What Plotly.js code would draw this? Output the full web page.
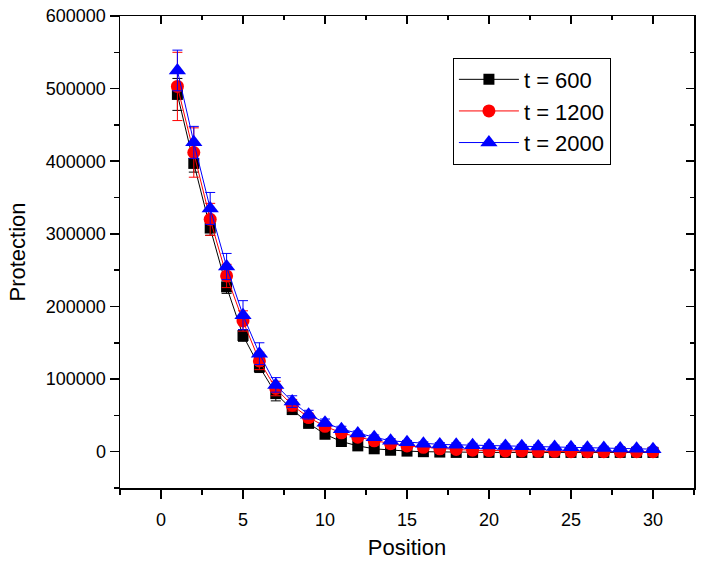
<!DOCTYPE html>
<html>
<head>
<meta charset="utf-8">
<script src="https://cdn.plot.ly/plotly-3.0.1.min.js"></script>
<style>html,body{margin:0;padding:0;background:#fff;}#chart{width:704px;height:564px;}</style>
</head>
<body>
<div id="chart"></div>
<script>
var positions = [1,2,3,4,5,6,7,8,9,10,11,12,13,14,15,16,17,18,19,20,21,22,23,24,25,26,27,28,29,30];

var t600 = [492000,397000,308000,227000,160000,117000,80000,58000,39000,24000,14000,8000,4000,2000,800,0,-500,-1000,-1000,-1000,-1000,-1000,-1000,-1000,-1000,-1000,-1000,-1000,-1000,-1000];
var t600Err = [22000,12000,10000,9000,8000,8000,10000,6000,4000,3000,2500,2000,2000,1500,1500,1500,1500,1500,1500,1500,1500,1500,1500,1500,1500,1500,1500,1500,1500,1500];

var t1200 = [503000,412000,320000,242000,180000,125000,87000,64000,47000,35000,26000,20000,15000,11000,8000,6000,4000,3000,2000,1500,1000,1000,500,500,0,0,0,0,0,0];
var t1200Err = [47000,34000,22000,16000,14000,12000,10000,8000,6000,5000,4000,3500,3000,3000,2500,2500,2500,2500,2500,2500,2500,2500,2500,2500,2500,2500,2500,2500,2500,2500];

var t2000 = [525000,426000,335000,255000,188000,135000,92000,69000,51000,40000,31000,25000,20000,15000,13000,11000,10000,9500,9000,8500,8000,7500,7000,6500,6000,5500,5000,4500,4000,3500];
var t2000Err = [28000,22000,22000,18000,20000,15000,10000,8000,6000,5000,4000,3500,3000,3000,2500,2500,2500,2500,2500,2500,2500,2500,2500,2500,2500,2500,2500,2500,2500,2500];

var seriesNames = ['t = 600','t = 1200','t = 2000'];
var xRange = [-2.5, 32.5];
var yRange = [-50000, 600000];

function mk(name, y, err, color, symbol, size) {
  return {
    x: positions, y: y, name: name, type: 'scatter', mode: 'lines+markers',
    line: {color: color, width: 1},
    marker: {color: color, symbol: symbol, size: size, line: {width: 0}},
    error_y: {type: 'data', array: err, visible: true, color: color, thickness: 1, width: 5},
    xaxis: 'x', yaxis: 'y'
  };
}

var data = [
  mk(seriesNames[0], t600, t600Err, '#000000', 'square', 11),
  mk(seriesNames[1], t1200, t1200Err, '#ff0000', 'circle', 13),
  mk(seriesNames[2], t2000, t2000Err, '#0000ff', 'triangle-up', 15),
  {x: [], y: [], xaxis: 'x2', yaxis: 'y2', showlegend: false, hoverinfo: 'skip', type: 'scatter'}
];

var fontFam = 'Liberation Sans, Arial, sans-serif';
var axBase = {
  showgrid: false, zeroline: false, showline: true, linecolor: '#000', linewidth: 1.5,
  tickcolor: '#000', tickwidth: 1.5, ticklen: 9,
  tickfont: {family: fontFam, size: 18, color: '#000'}
};

var layout = {
  width: 704, height: 564,
  margin: {l: 120, r: 10, t: 16, b: 76},
  paper_bgcolor: '#fff', plot_bgcolor: '#fff',
  showlegend: true,
  font: {family: fontFam, color: '#000'},
  xaxis: Object.assign({}, axBase, {
    range: xRange, autorange: false, dtick: 5, tick0: 0, ticks: 'outside',
    ticklabelstandoff: 6,
    minor: {dtick: 2.5, tick0: 0, ticks: 'outside', ticklen: 5, tickwidth: 1.5, tickcolor: '#000'},
    title: {text: 'Position', font: {family: fontFam, size: 22, color: '#000'}, standoff: 10}
  }),
  yaxis: Object.assign({}, axBase, {
    range: yRange, autorange: false, dtick: 100000, tick0: 0, ticks: 'outside',
    tickformat: 'd',
    minor: {dtick: 50000, tick0: 0, ticks: 'outside', ticklen: 5, tickwidth: 1.5, tickcolor: '#000'},
    title: {text: 'Protection', font: {family: fontFam, size: 22, color: '#000'}, standoff: 14}
  }),
  xaxis2: Object.assign({}, axBase, {
    overlaying: 'x', side: 'top', anchor: 'y2',
    range: xRange, autorange: false, dtick: 5, tick0: 0, ticks: 'inside', ticklen: 8,
    showticklabels: false,
    minor: {dtick: 2.5, tick0: 0, ticks: 'inside', ticklen: 4, tickwidth: 1.5, tickcolor: '#000'}
  }),
  yaxis2: Object.assign({}, axBase, {
    overlaying: 'y', side: 'right', anchor: 'x2',
    range: yRange, autorange: false, dtick: 100000, tick0: 0, ticks: 'inside', ticklen: 8,
    showticklabels: false,
    minor: {dtick: 50000, tick0: 0, ticks: 'inside', ticklen: 4, tickwidth: 1.5, tickcolor: '#000'}
  }),
  legend: {
    x: 0.58, y: 0.912, xanchor: 'left', yanchor: 'top',
    bgcolor: '#fff', bordercolor: '#000', borderwidth: 1,
    font: {family: fontFam, size: 22, color: '#000'},
    itemwidth: 60, tracegroupgap: 0
  }
};

Plotly.newPlot('chart', data, layout, {displayModeBar: false, staticPlot: true});
</script>
</body>
</html>
